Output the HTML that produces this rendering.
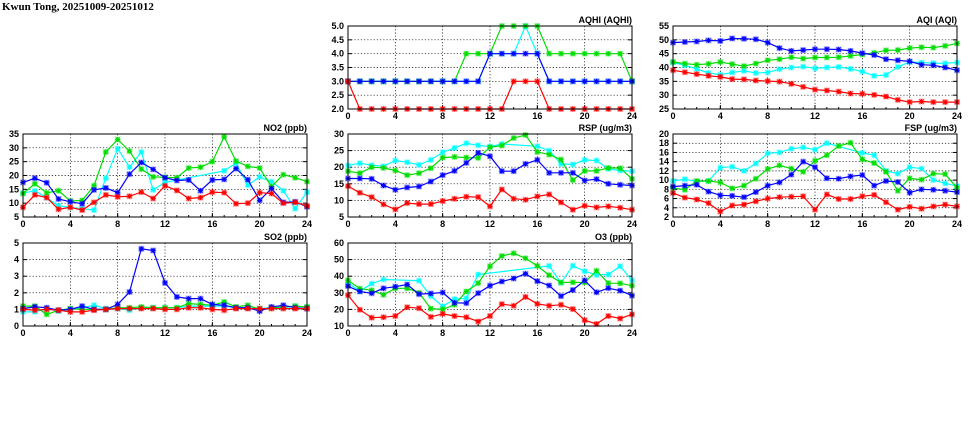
<!DOCTYPE html>
<html><head><meta charset="utf-8"><style>
body{margin:0;background:#fff;width:975px;height:447px;overflow:hidden}
svg{display:block}
text{font-family:"Liberation Sans",sans-serif;font-weight:bold;font-size:9px;fill:#000}
</style></head><body>
<svg id="chart" width="975" height="447" xmlns="http://www.w3.org/2000/svg">
<text x="2" y="10" style="font-family:'Liberation Serif',serif;font-size:11px">Kwun Tong, 20251009-20251012</text>
</svg>
<script>
const hours = [0,1,2,3,4,5,6,7,8,9,10,11,12,13,14,15,16,17,18,19,20,21,22,23,24];
const xTicks = [0,4,8,12,16,20,24];
const seriesColors = ["#00ffff","#00dd00","#0000ff","#ff0000"];
const seriesNames = ["cyan","green","blue","red"];

const aqhiTicks = ["2.0","2.5","3.0","3.5","4.0","4.5","5.0"];
const aqhiCyan  = [3,3,3,3,3,3,3,3,3,3,3,3,4,4,4,5,4,3,3,3,3,3,3,3,3];
const aqhiGreen = [3,3,3,3,3,3,3,3,3,3,4,4,4,5,5,5,5,4,4,4,4,4,4,4,3];
const aqhiBlue  = [3,3,3,3,3,3,3,3,3,3,3,3,4,4,4,4,4,3,3,3,3,3,3,3,3];
const aqhiRed   = [3,2,2,2,2,2,2,2,2,2,2,2,2,2,3,3,3,2,2,2,2,2,2,2,2];

const aqiTicks = [25,30,35,40,45,50,55];
const aqiCyan  = [41.8,40.8,39.5,38,37.4,38.2,38.8,38,38.2,39.4,40,40.3,39.7,40,40.2,39.5,38.5,37,37.3,40.2,42,41.8,41.6,41.5,41.8];
const aqiGreen = [42,41.4,41,41.3,42,41.2,40.5,41.4,42.6,43,43.7,43.2,43.6,43.6,43.7,44.2,44.7,45.3,46.2,46.3,47,47.3,47.2,47.8,48.7];
const aqiBlue  = [49,49.2,49.4,49.8,49.6,50.5,50.4,50.2,49,47,46,46.3,46.6,46.6,46.5,46,45.2,44.5,43,42.6,42.2,41,40.8,40,39];
const aqiRed   = [39,38.3,37.6,37,36.6,35.8,35.7,35.3,35.1,34.9,34.1,33,32,31.7,31.3,30.6,30.5,30.1,29.5,28.3,27.5,27.7,27.5,27.5,27.5];

const no2Ticks = [5,10,15,20,25,30,35];
const no2Cyan  = [13.6,14.5,12,9,8.5,8,7.5,19,29.7,23,28.5,14.8,17.5,null,null,null,null,21.7,24.5,16.5,19.5,17.8,14.5,8,14];
const no2Green = [13.5,17,13.7,14.5,10.8,11,16.3,28.5,33,28.8,22.3,19.5,19.3,19.2,22.7,23,25,34,25.2,23.3,22.7,16,20.3,19.2,17.8];
const no2Blue  = [17.5,19,17.4,11.5,10.5,9.8,14.8,15.5,13.8,20.5,24.7,22.2,19.2,18.2,18.4,14.5,18.4,18.6,22.5,18.5,11,15.3,10.3,10.5,8.7];
const no2Red   = [8.5,13,12,7.8,8.5,7.5,10.3,13,12.3,12.5,14,11.7,16.3,14.6,11.7,12,14,13.8,9.8,10,13.8,13.5,10,10.3,9];

const rspTicks = [5,10,15,20,25,30];
const rspCyan  = [20.5,21.2,20.6,20.3,22,21.5,20.7,22.2,24.5,25.8,27.2,26.6,26.2,27,null,null,26.3,25,21,20.8,22.2,22,19.5,19,18.8];
const rspGreen = [18.8,18.2,20,19.8,19,17.6,18.2,19.7,22.9,23.1,22.9,22.8,26,26.5,28.8,29.7,24.6,23.8,22.3,16.1,18.9,18.9,19.8,19.7,16.5];
const rspBlue  = [16.6,16.6,16.5,14.5,13.2,13.9,14.2,15.7,17.6,18.9,21.3,24.3,23.3,18.8,18.8,21,22.2,18.3,18.3,18.3,16,16.4,15,14.7,14.5];
const rspRed   = [14.3,12.3,11,8.8,7.3,9.2,8.9,8.9,9.8,10.5,11.1,11,8.2,13.3,10.5,10.2,11.2,11.8,9.4,7.2,8.4,7.9,8.2,7.8,7.2];

const fspTicks = [2,4,6,8,10,12,14,16,18,20];
const fspCyan  = [9.8,10.2,9.7,9.8,12.7,12.9,12,13.6,15.8,16,16.8,17.1,16.6,18,null,null,15.9,15.4,12,11.4,12.8,12.5,10,9.3,8.7];
const fspGreen = [8.3,7.9,9.8,9.8,9.5,8.2,8.8,10.3,12.4,13.2,12.5,11.8,14.2,15.4,17.4,18.1,14.5,13.7,11.8,7.7,10.4,10.1,11.4,11.3,8.3];
const fspBlue  = [8.6,8.8,9,7.5,6.7,6.6,6.3,7.4,8.8,9.5,11.2,14,12.8,10.4,10.3,10.8,11.1,8.8,9.8,9.6,7.3,8,7.9,7.7,7.4];
const fspRed   = [7.2,6.2,5.8,5,3.2,4.5,4.7,5.4,6,6.3,6.4,6.5,3.6,6.9,5.9,5.9,6.5,6.8,5.2,3.6,4.2,3.8,4.3,4.7,4.3];

const so2Ticks = [0,1,2,3,4,5];
const so2Cyan  = [0.85,0.85,1.05,0.9,1,1.1,1.25,1.05,1.05,0.95,1.1,1.1,1.1,1.1,1.2,1.2,1.2,1.2,1.1,1.1,1.05,1.1,1.1,1.2,1.15];
const so2Green = [1.2,1.2,0.7,0.95,1.05,1,1,1,1.1,1.1,1.15,1.1,1.1,1.1,1.35,1.3,1.25,1.45,1.15,1.25,1,1.1,1.15,1.2,1.15];
const so2Blue  = [1.05,1.15,1.1,0.95,1,1.2,1,1,1.3,2.05,4.65,4.55,2.6,1.75,1.65,1.65,1.3,1.25,1.1,1.1,0.9,1.15,1.25,1.1,1.05];
const so2Red   = [1,0.95,1,0.95,0.85,0.85,0.95,1,1.05,1.05,1.05,1.05,1,1,1.1,1.1,1,0.95,1.05,1.05,1.05,1.05,1.05,1.05,1.05];

const o3Ticks = [10,20,30,40,50,60];
const o3Cyan  = [36,31,35.5,38,null,null,37.3,28,21.8,26.2,26.7,41,null,null,null,null,null,46.2,36,46.3,43,40.8,41,46,37.5];
const o3Green = [37.5,32.5,31.5,28.8,32.7,32.7,30,20.5,20,22.8,30.8,35.8,46,52.2,53.8,50.8,46.2,40.6,36.2,36.3,36.2,43.3,35.8,35.7,34.3];
const o3Blue  = [34,30.8,29.7,32.7,33.7,35,29.2,29.6,30.2,24,23.8,29.8,34.3,36.8,38.6,41.5,37,34.4,28,31.7,37.5,30.3,32.8,31.3,28.3];
const o3Red   = [28.5,19.8,15,15.3,16,21.3,20.7,15.5,17.3,16,15.3,12.7,16,23.2,22.2,27.5,23.3,22.2,22.8,20.2,13.5,11.2,16,14.5,17];

const NS = "http://www.w3.org/2000/svg";
const svg = document.getElementById("chart");
function mk(tag, attrs, parent){const e=document.createElementNS(NS,tag);for(const k in attrs)e.setAttribute(k,attrs[k]);(parent||svg).appendChild(e);return e;}

function panel(key, title, x0, y0, x1, y1, ticks, series){
  const g = mk("g",{});
  
  
  const ymin = +ticks[0], ymax = +ticks[ticks.length-1];
  const sx = h => x0 + (h-0)/24*(x1-x0);
  const sy = v => y1 - (v-ymin)/(ymax-ymin)*(y1-y0);
  ticks.forEach(t=>{
    const y = sy(+t);
    if (y>y0+0.5 && y<y1-0.5) mk("line",{x1:x0,x2:x1,y1:y,y2:y,stroke:"#000","stroke-width":0.7,"stroke-dasharray":"1.2,2"},g);
    mk("line",{x1:x0,x2:x0+4,y1:y,y2:y,stroke:"#000","stroke-width":1},g);
    mk("line",{x1:x1-4,x2:x1,y1:y,y2:y,stroke:"#000","stroke-width":1},g);
    const lb = mk("text",{x:x0-4,y:y+3,"text-anchor":"end"},g);
    lb.textContent = t;
    
    
  });
  xTicks.forEach(h=>{
    const x = sx(h);
    if (h>0 && h<24) mk("line",{x1:x,x2:x,y1:y0,y2:y1,stroke:"#000","stroke-width":0.7,"stroke-dasharray":"1.2,2"},g);
    mk("line",{x1:x,x2:x,y1:y1,y2:y1-4,stroke:"#000"},g);
    const lb = mk("text",{x:x,y:y1+10,"text-anchor":"middle"},g);
    lb.textContent = h;
    
    
  });
  hours.forEach(h=>{const x=sx(h);mk("line",{x1:x,x2:x,y1:y1,y2:y1-2,stroke:"#000"},g);});
  series.forEach((vals,si)=>{
    const col = seriesColors[si];
    const pts = [];
    vals.forEach((v,i)=>{ if(v!==null) pts.push([sx(hours[i]), sy(v)]); });
    const pl = mk("polyline",{points:pts.map(p=>p[0].toFixed(1)+","+p[1].toFixed(1)).join(" "),fill:"none",stroke:col,"stroke-width":1.2},g);
    
    
    pts.forEach(p=>{
      mk("rect",{x:p[0]-3,y:p[1]-3,width:6,height:6,fill:col,"fill-opacity":0.3},g);
      const m = mk("path",{d:`M${p[0]-2.5},${p[1]}h5M${p[0]},${p[1]-2.5}v5M${p[0]-2},${p[1]-2}l4,4M${p[0]-2},${p[1]+2}l4,-4`,stroke:col,"stroke-width":1.1},g);
      
      
    });
  });
  mk("rect",{x:x0,y:y0,width:x1-x0,height:y1-y0,fill:"none",stroke:"#000","stroke-width":1},g);
  const tt = mk("text",{x:x1,y:y0-3,"text-anchor":"end"},g);
  tt.textContent = title;
  
  
}

panel("aqhi","AQHI (AQHI)",348,26,632,109,aqhiTicks,[aqhiCyan,aqhiGreen,aqhiBlue,aqhiRed]);
panel("aqi","AQI (AQI)",673,26,957,109,aqiTicks,[aqiCyan,aqiGreen,aqiBlue,aqiRed]);
panel("no2","NO2 (ppb)",23,134,307,217,no2Ticks,[no2Cyan,no2Green,no2Blue,no2Red]);
panel("rsp","RSP (ug/m3)",348,134,632,217,rspTicks,[rspCyan,rspGreen,rspBlue,rspRed]);
panel("fsp","FSP (ug/m3)",673,134,957,217,fspTicks,[fspCyan,fspGreen,fspBlue,fspRed]);
panel("so2","SO2 (ppb)",23,243,307,326,so2Ticks,[so2Cyan,so2Green,so2Blue,so2Red]);
panel("o3","O3 (ppb)",348,243,632,326,o3Ticks,[o3Cyan,o3Green,o3Blue,o3Red]);
</script>
</body></html>
